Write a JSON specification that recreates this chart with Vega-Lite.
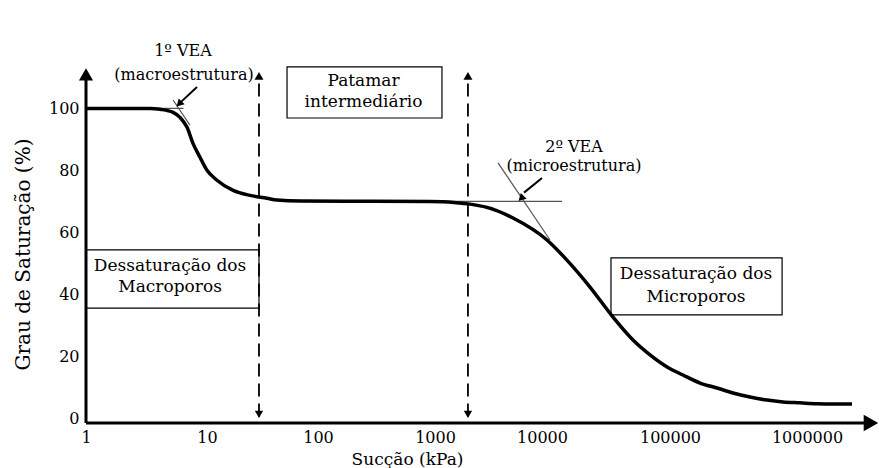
{
  "$schema": "https://vega.github.io/schema/vega-lite/v6.json",
  "width": 793,
  "height": 423,
  "autosize": {"type": "none"},
  "padding": {"left": 86, "top": 0, "right": 0, "bottom": 45},
  "background": "white",
  "config": {"view": {"stroke": null}, "font": "DejaVu Serif"},
  "datasets": {
    "curve": [
      {"x": 1, "y": 100}, {"x": 2, "y": 100}, {"x": 3.4, "y": 100}, {"x": 4.1, "y": 99.7},
      {"x": 5.24, "y": 98.7}, {"x": 5.98, "y": 97.1}, {"x": 6.84, "y": 93.9}, {"x": 7.66, "y": 88.7},
      {"x": 8.75, "y": 84.2}, {"x": 10, "y": 80}, {"x": 12.3, "y": 76.8}, {"x": 17.2, "y": 73.5},
      {"x": 24.4, "y": 71.9}, {"x": 34.7, "y": 71.0}, {"x": 42.7, "y": 70.4}, {"x": 70, "y": 70.1},
      {"x": 300, "y": 70}, {"x": 906, "y": 69.9}, {"x": 1500, "y": 69.6}, {"x": 2200, "y": 69.0},
      {"x": 3000, "y": 68.1}, {"x": 5358, "y": 64.6}, {"x": 10940, "y": 57.5}, {"x": 15660, "y": 51.0}, {"x": 23710, "y": 42.3},
      {"x": 35870, "y": 32.6}, {"x": 51400, "y": 25.2}, {"x": 69800, "y": 20.4}, {"x": 94900, "y": 16.5},
      {"x": 124400, "y": 13.9}, {"x": 165600, "y": 11.3}, {"x": 220300, "y": 9.7}, {"x": 288200, "y": 8.1},
      {"x": 383600, "y": 6.8}, {"x": 510500, "y": 5.8}, {"x": 668400, "y": 5.2}, {"x": 889800, "y": 4.9},
      {"x": 1180000, "y": 4.6}, {"x": 1550000, "y": 4.5}, {"x": 2130000, "y": 4.5}
    ],
    "boxes": [
      {"x": 1, "x2": 29.4, "y": 54.3, "y2": 35.5},
      {"x": 52.6, "x2": 1162, "y": 113.4, "y2": 96.9},
      {"x": 34590, "x2": 657900, "y": 51.7, "y2": 33.3}
    ],
    "thin": [
      {"x": 3.4, "x2": 6.4, "y": 100, "y2": 100},
      {"x": 5.24, "x2": 7.23, "y": 102.7, "y2": 94.6},
      {"x": 906, "x2": 14330, "y": 70, "y2": 70},
      {"x": 3882, "x2": 11550, "y": 82.4, "y2": 57.5}
    ],
    "shafts": [
      {"x": 8.27, "x2": 6.1, "y": 106.9, "y2": 102.1},
      {"x": 10000, "x2": 6790, "y": 77.5, "y2": 72.8}
    ],
    "heads": [
      {"x": 5.98, "y": 101.7},
      {"x": 6500, "y": 71.2}
    ],
    "axislines": [
      {"x": 1, "x2": 1, "y": -1.6, "y2": 110},
      {"x": 1, "x2": 3000000, "y": -1.6, "y2": -1.6}
    ],
    "dashed": [
      {"x": 29.4, "y": 0.5, "y2": 109},
      {"x": 2032, "y": 0.5, "y2": 109}
    ],
    "uparrows": [
      {"x": 29.4, "y": 110.5},
      {"x": 2032, "y": 110.5}
    ],
    "downarrows": [
      {"x": 29.4, "y": 1.2},
      {"x": 2032, "y": 1.2}
    ],
    "yarrow": [{"x": 1, "y": 111}],
    "xarrow": [{"x": 2930000, "y": -1.6}],
    "boxtext": [
      {"x": 4.95, "y": 49.1, "t": "Dessaturação dos"},
      {"x": 4.95, "y": 42.3, "t": "Macroporos"},
      {"x": 245, "y": 108.8, "t": "Patamar"},
      {"x": 245, "y": 102.0, "t": "intermediário"},
      {"x": 154800, "y": 46.5, "t": "Dessaturação dos"},
      {"x": 154800, "y": 39.1, "t": "Microporos"}
    ],
    "veatext": [
      {"x": 6.33, "y": 118.5, "t": "1º VEA"},
      {"x": 6.46, "y": 110.8, "t": "(macroestrutura)"},
      {"x": 17780, "y": 87.5, "t": "2º VEA"},
      {"x": 17780, "y": 81.4, "t": "(microestrutura)"}
    ]
  },
  "encoding": {
    "x": {
      "field": "x", "type": "quantitative",
      "scale": {"type": "log", "domain": [1, 10, 100, 1000, 10000, 100000, 1000000, 3354000], "range": [0, 121, 232, 349, 456, 584, 721, 793], "nice": false},
      "axis": {"values": [1, 10, 100, 1000, 10000, 100000, 1000000], "format": "d", "domain": false, "ticks": false, "grid": false, "labelFlush": false, "labelFontSize": 16, "labelPadding": 6, "labelColor": "black", "labelFont": "DejaVu Serif",
        "title": "Sucção (kPa)", "titleFont": "DejaVu Serif", "titleFontSize": 17, "titleFontWeight": "normal", "titleColor": "black", "titleX": 321, "titleY": 36, "titleBaseline": "middle"}
    },
    "y": {
      "field": "y", "type": "quantitative",
      "scale": {"domain": [-1.6, 135], "nice": false, "zero": false},
      "axis": {"values": [0, 20, 40, 60, 80, 100], "domain": false, "ticks": false, "grid": false, "labelFontSize": 16, "labelPadding": 7, "labelColor": "black", "labelFont": "DejaVu Serif",
        "title": "Grau de Saturação (%)", "titleFont": "DejaVu Serif", "titleFontSize": 20, "titleFontWeight": "normal", "titleColor": "black", "titleX": -63, "titleY": 254, "titleBaseline": "middle", "titleAngle": -90}
    }
  },
  "layer": [
    {"data": {"name": "boxes"}, "mark": {"type": "rect", "fill": "white", "fillOpacity": 0, "stroke": "black", "strokeWidth": 1.2},
      "encoding": {"x2": {"field": "x2"}, "y2": {"field": "y2"}}},
    {"data": {"name": "thin"}, "mark": {"type": "rule", "color": "#555555", "strokeWidth": 1.2},
      "encoding": {"x2": {"field": "x2"}, "y2": {"field": "y2"}}},
    {"data": {"name": "dashed"}, "mark": {"type": "rule", "color": "black", "strokeWidth": 1.8, "strokeDash": [13, 7]},
      "encoding": {"y2": {"field": "y2"}}},
    {"data": {"name": "curve"}, "mark": {"type": "line", "color": "black", "strokeWidth": 3.5, "interpolate": "monotone"}, "encoding": {}},
    {"data": {"name": "axislines"}, "mark": {"type": "rule", "color": "black", "strokeWidth": 3},
      "encoding": {"x2": {"field": "x2"}, "y2": {"field": "y2"}}},
    {"data": {"name": "shafts"}, "mark": {"type": "rule", "color": "black", "strokeWidth": 2},
      "encoding": {"x2": {"field": "x2"}, "y2": {"field": "y2"}}},
    {"data": {"name": "heads"}, "mark": {"type": "point", "shape": "triangle", "angle": 225, "filled": true, "color": "black", "size": 70, "opacity": 1}, "encoding": {}},
    {"data": {"name": "uparrows"}, "mark": {"type": "point", "shape": "triangle-up", "filled": true, "color": "black", "size": 80, "opacity": 1}, "encoding": {}},
    {"data": {"name": "downarrows"}, "mark": {"type": "point", "shape": "triangle-down", "filled": true, "color": "black", "size": 70, "opacity": 1}, "encoding": {}},
    {"data": {"name": "yarrow"}, "mark": {"type": "point", "shape": "triangle-up", "filled": true, "color": "black", "size": 200, "opacity": 1}, "encoding": {}},
    {"data": {"name": "xarrow"}, "mark": {"type": "point", "shape": "triangle-right", "filled": true, "color": "black", "size": 280, "opacity": 1}, "encoding": {}},
    {"data": {"name": "boxtext"}, "mark": {"type": "text", "font": "DejaVu Serif", "fontSize": 17, "color": "black", "align": "center", "baseline": "middle"},
      "encoding": {"text": {"field": "t"}}},
    {"data": {"name": "veatext"}, "mark": {"type": "text", "font": "DejaVu Serif", "fontSize": 16, "color": "black", "align": "center", "baseline": "middle"},
      "encoding": {"text": {"field": "t"}}}
  ]
}
